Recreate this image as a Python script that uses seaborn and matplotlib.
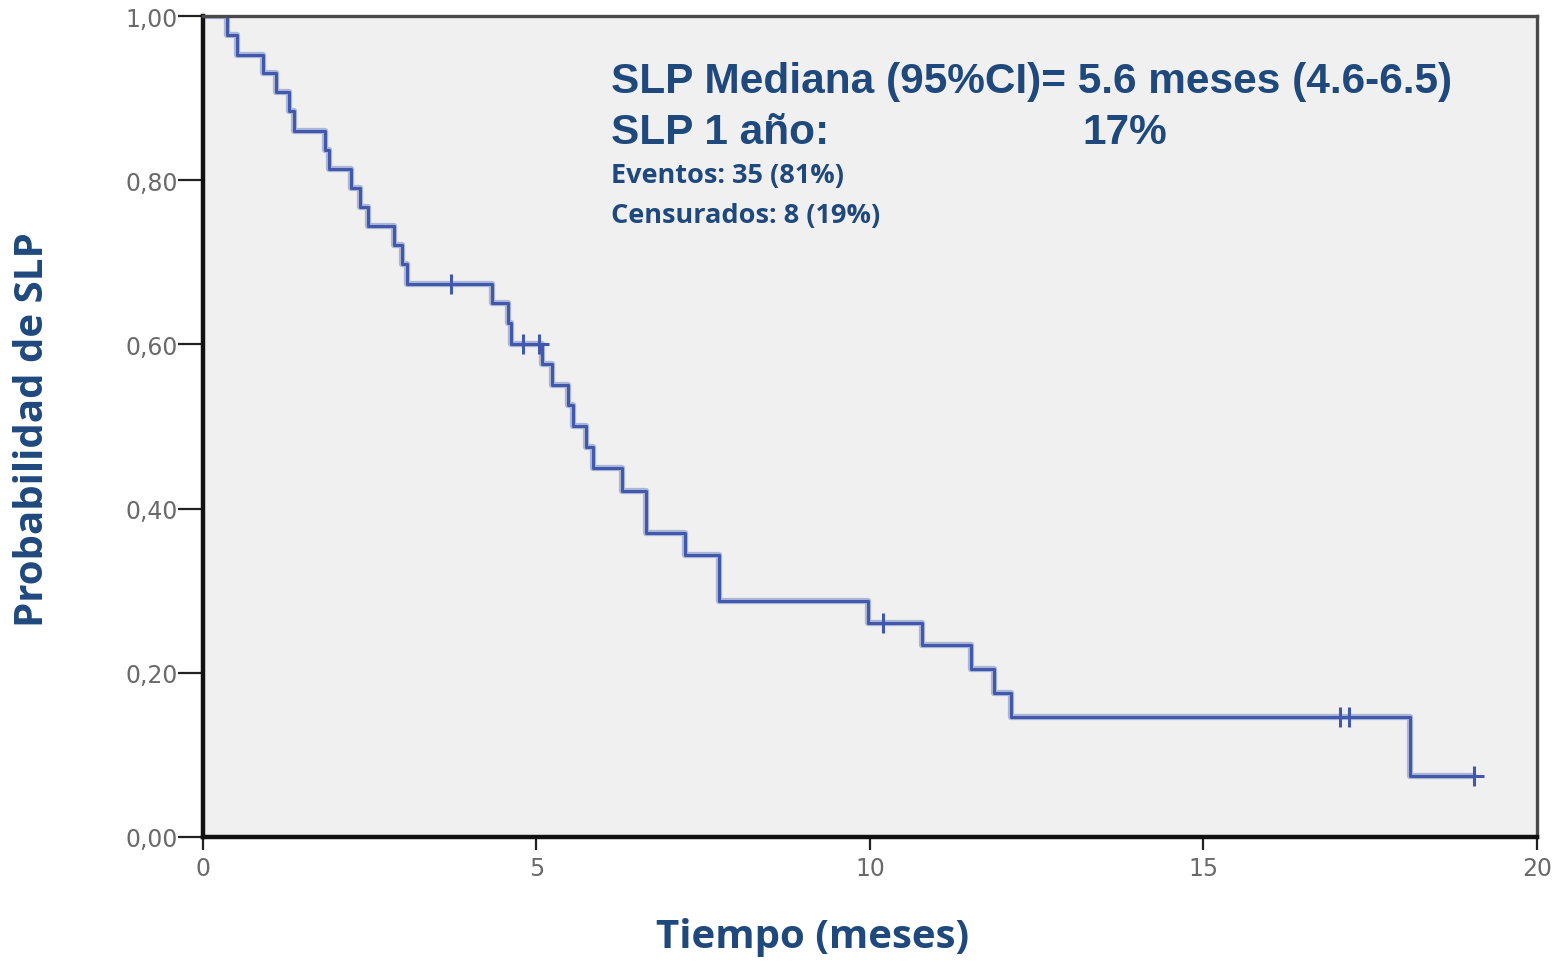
"""
Kaplan-Meier curve of SLP (progression-free survival), recreated with seaborn
"""

import matplotlib
matplotlib.use("Agg")
import matplotlib.pyplot as plt
import pandas as pd
import seaborn as sns

# ----------------------------
# DATA
# ----------------------------
step_times = [0.0, 0.36, 0.51, 0.90, 1.09, 1.29, 1.36, 1.83, 1.89, 2.22, 2.35,
              2.48, 2.87, 2.99, 3.06, 4.34, 4.58, 4.62, 5.08, 5.23, 5.47, 5.55,
              5.75, 5.85, 6.28, 6.65, 7.23, 7.73, 9.97, 10.78, 11.52, 11.86,
              12.11, 18.10, 19.05]
step_surv = [1.000, 0.977, 0.953, 0.930, 0.907, 0.884, 0.860, 0.837, 0.814,
             0.791, 0.767, 0.744, 0.721, 0.698, 0.674, 0.650, 0.626, 0.601,
             0.576, 0.551, 0.526, 0.501, 0.475, 0.450, 0.421, 0.370, 0.343,
             0.288, 0.261, 0.234, 0.205, 0.175, 0.146, 0.074, 0.074]

censor_times = [3.72, 4.80, 5.04, 10.20, 17.05, 17.18, 19.05]
censor_surv = [0.674, 0.601, 0.601, 0.261, 0.146, 0.146, 0.074]

x_ticks = [0, 5, 10, 15, 20]
y_ticks = [0.0, 0.2, 0.4, 0.6, 0.8, 1.0]
y_tick_labels = ["0,00", "0,20", "0,40", "0,60", "0,80", "1,00"]

title_lines = ["SLP Mediana (95%CI)= 5.6 meses (4.6-6.5)", "SLP 1 año:"]
one_year = "17%"
small_lines = ["Eventos: 35 (81%)", "Censurados: 8 (19%)"]

# ----------------------------
# STYLE
# ----------------------------
sns.set_theme(style="white")
plt.rcParams["font.family"] = ["Liberation Sans", "DejaVu Sans"]

navy = "#1f497d"
curve_blue = "#4059ad"
tick_gray = "#6a6a6a"

km = pd.DataFrame({"t": step_times, "s": step_surv})
cens = pd.DataFrame({"t": censor_times, "s": censor_surv})

fig = plt.figure(figsize=(15.61, 9.62), dpi=100)
ax = fig.add_axes([0.130, 0.1289, 0.8546, 0.8534])
ax.set_facecolor("#f0f0f0")

# soft halo behind the curve, like the blurry original
sns.lineplot(data=km, x="t", y="s", ax=ax, estimator=None, sort=False,
             drawstyle="steps-post", color="#9aa8d2", linewidth=4.5, alpha=0.8)
sns.lineplot(data=km, x="t", y="s", ax=ax, estimator=None, sort=False,
             drawstyle="steps-post", color=curve_blue, linewidth=2.2)
sns.scatterplot(data=cens, x="t", y="s", ax=ax, marker="+", s=220,
                color=curve_blue, linewidth=2.2, zorder=5)

ax.set_xlim(0, 20)
ax.set_ylim(0, 1)
ax.set_xticks(x_ticks)
ax.set_yticks(y_ticks)
ax.set_yticklabels(y_tick_labels)

ax.tick_params(axis="y", direction="out", length=18, width=1.6, color="#222222",
               labelsize=17, labelcolor=tick_gray, pad=0, left=True)
ax.tick_params(axis="x", direction="out", length=9, width=1.6, color="#222222",
               labelsize=17, labelcolor=tick_gray, pad=5, bottom=True)
for lab in ax.get_xticklabels() + ax.get_yticklabels():
    lab.set_family("DejaVu Sans")

for side in ["left", "bottom"]:
    ax.spines[side].set_color("#111111")
    ax.spines[side].set_linewidth(3.2)
for side in ["top", "right"]:
    ax.spines[side].set_color("#4a4a4a")
    ax.spines[side].set_linewidth(2.4)

ax.set_xlabel("Tiempo (meses)", fontsize=29, fontweight="bold", color=navy,
              family="Open Sans")
ax.xaxis.set_label_coords(0.457, -0.0975)
ax.set_ylabel("Probabilidad de SLP", fontsize=29, fontweight="bold", color=navy,
              family="Open Sans")
ax.yaxis.set_label_coords(-0.113, 0.497)

# annotations
ax.text(0.306, 0.9074, title_lines[0], transform=ax.transAxes, fontsize=30.5,
        fontweight="bold", color=navy, va="baseline", ha="left")
ax.text(0.306, 0.8453, title_lines[1], transform=ax.transAxes, fontsize=30.5,
        fontweight="bold", color=navy, va="baseline", ha="left")
ax.text(0.659, 0.8453, one_year, transform=ax.transAxes, fontsize=30.5,
        fontweight="bold", color=navy, va="baseline", ha="left")
ax.text(0.306, 0.7978, small_lines[0], transform=ax.transAxes, fontsize=19.5,
        fontweight="bold", color=navy, va="baseline", ha="left", family="Open Sans")
ax.text(0.306, 0.7491, small_lines[1], transform=ax.transAxes, fontsize=19.5,
        fontweight="bold", color=navy, va="baseline", ha="left", family="Open Sans")

fig.savefig("out.png", dpi=100, facecolor="white")
